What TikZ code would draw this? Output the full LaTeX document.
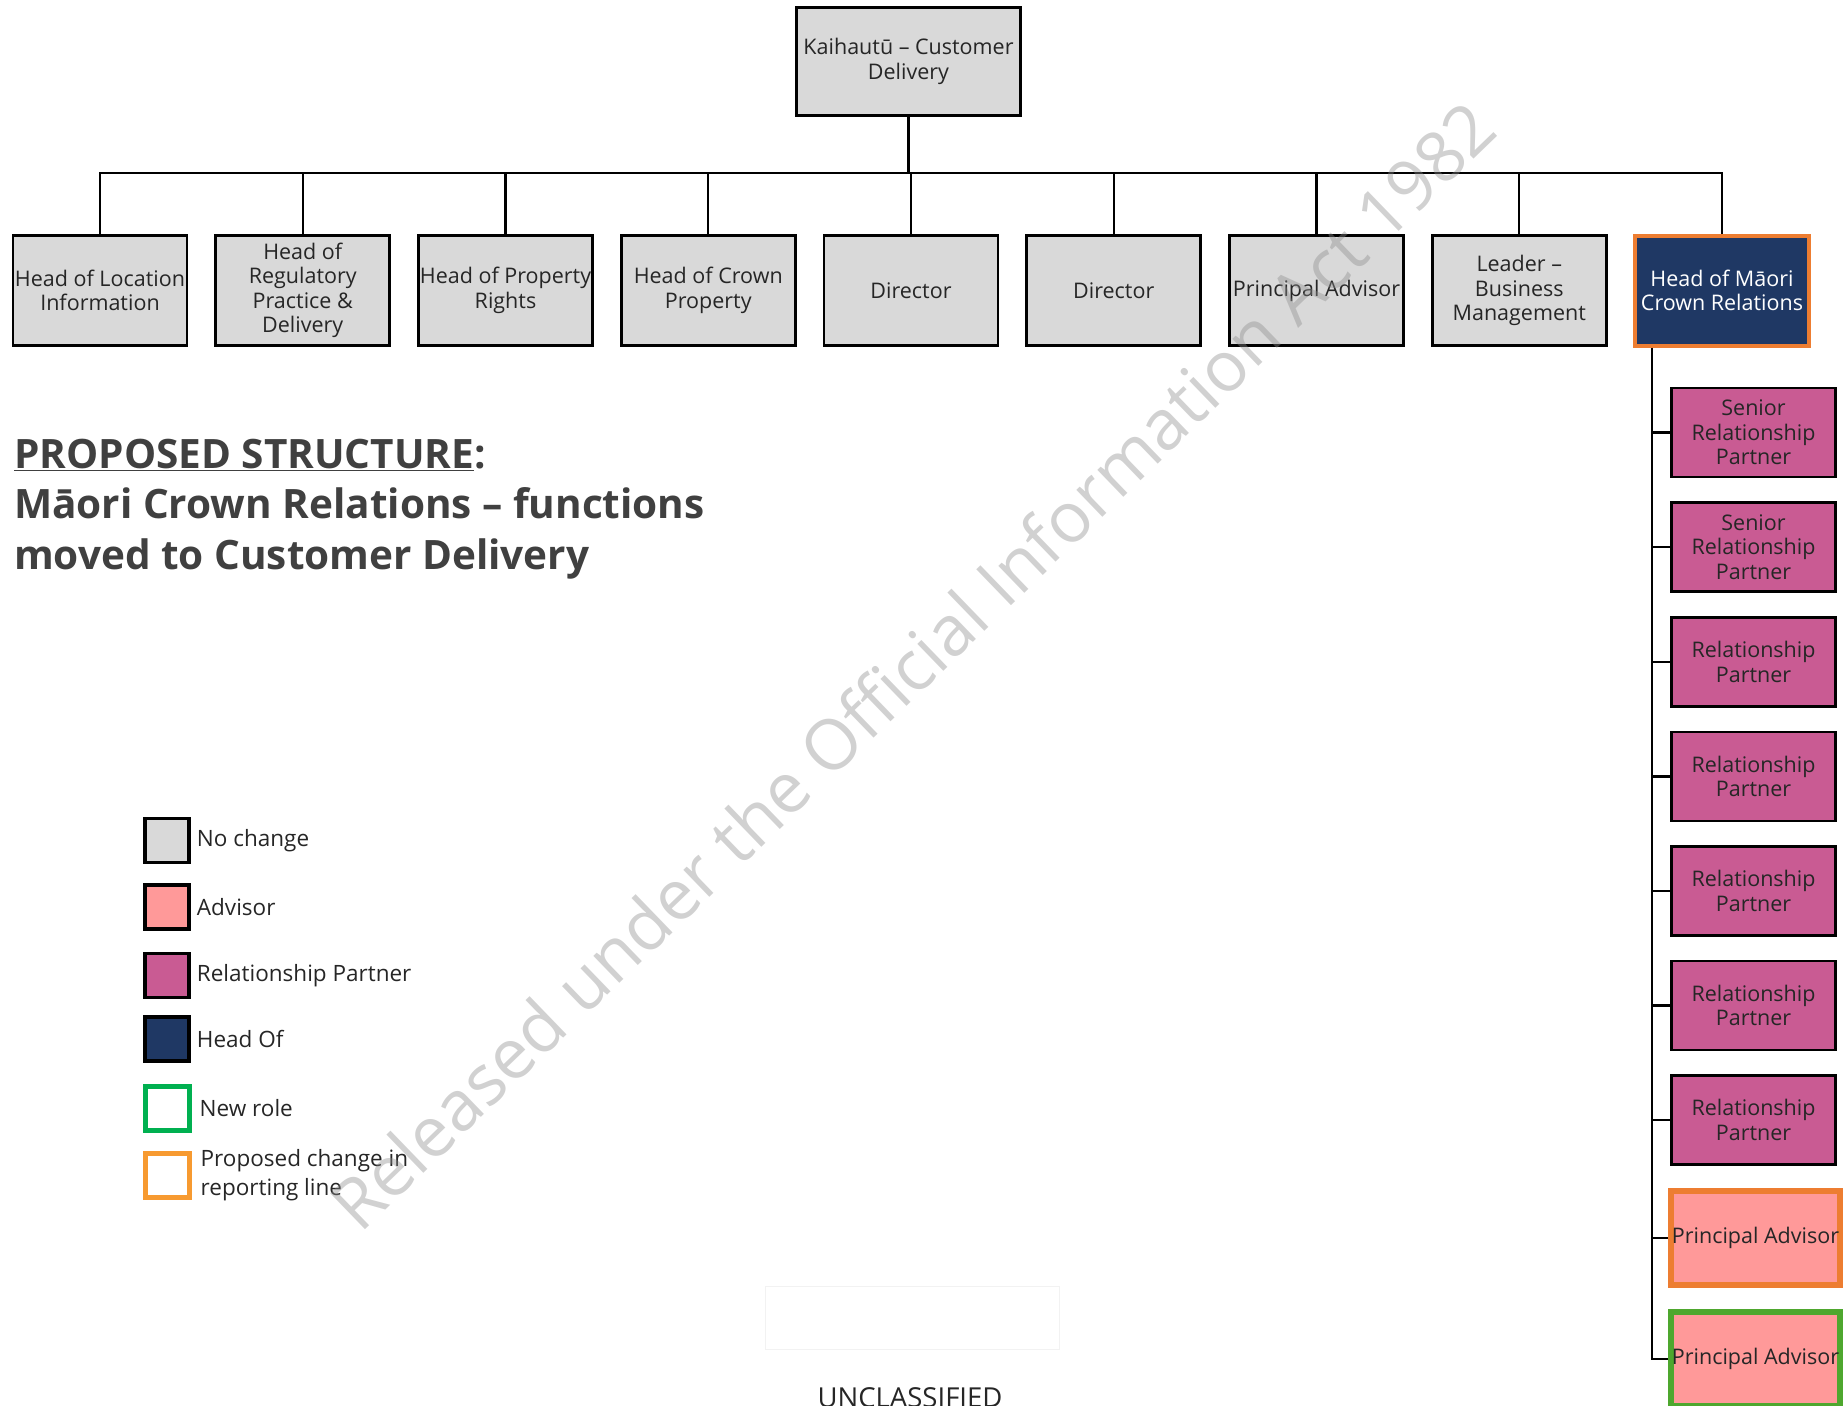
\documentclass[tikz,border=0pt]{standalone}
\usepackage{fontspec}
\setmainfont{Open Sans}
\usetikzlibrary{positioning}
\definecolor{nochange}{HTML}{D9D9D9}
\definecolor{advisor}{HTML}{FF9999}
\definecolor{relpartner}{HTML}{C95B93}
\definecolor{headof}{HTML}{1F3864}
\definecolor{movedorange}{HTML}{ED7D31}
\definecolor{legendorange}{HTML}{F79A30}
\definecolor{newgreen}{HTML}{4EA72E}
\definecolor{legendgreen}{HTML}{00B050}
\definecolor{titlegray}{HTML}{404040}
\tikzset{
  role/.style={draw=black,line width=2.6pt,fill=nochange,text=black!85,align=center,
    inner sep=0pt,font=\fontsize{21.5}{24.5}\selectfont},
  toprole/.style={role,minimum width=174pt,minimum height=110pt},
  subrole/.style={role,minimum width=164pt,minimum height=89pt},
  advrole/.style={role,fill=advisor,line width=6pt,minimum width=169pt,minimum height=94pt},
  link/.style={draw=black,line width=2.4pt},
  legendsq/.style={draw=black,line width=3.5pt,minimum size=44pt,inner sep=0pt},
  legendtext/.style={inner sep=0pt,text=black!85,align=left,font=\fontsize{22.5}{29}\selectfont},
  titletext/.style={inner sep=0pt,text=titlegray,font=\bfseries\fontsize{40.5}{48}\selectfont}
}
\begin{document}
\begin{tikzpicture}[x=1pt,y=-1pt]
\useasboundingbox (0,0) rectangle (1843,1405);

\node[role,minimum width=224pt,minimum height=108pt] (kaihautu) at (908.5,61.5) {Kaihautū – Customer\\Delivery};

\node[toprole] (hloc) at (100,290.5) {Head of Location\\Information};
\node[toprole] (hreg) at (302.75,290.5) {Head of\\Regulatory\\Practice \&\\Delivery};
\node[toprole] (hprop) at (505.5,290.5) {Head of Property\\Rights};
\node[toprole] (hcrown) at (708.25,290.5) {Head of Crown\\Property};
\node[toprole] (dirA) at (911,290.5) {Director};
\node[toprole] (dirB) at (1113.75,290.5) {Director};
\node[toprole] (padv) at (1316.5,290.5) {Principal Advisor};
\node[toprole] (lbm) at (1519.25,290.5) {Leader –\\Business\\Management};
\node[toprole,fill=headof,draw=movedorange,line width=4pt,text=white] (hmcr) at (1722,290.5) {Head of Māori\\Crown Relations};

\coordinate (bus) at (0,173);
\draw[link] (kaihautu.south) -- (kaihautu.south |- bus);
\draw[link] (hloc.north) |- (hmcr.north |- bus) -- (hmcr.north);
\draw[link] (hreg.north) -- (hreg.north |- bus);
\draw[link] (hprop.north) -- (hprop.north |- bus);
\draw[link] (hcrown.north) -- (hcrown.north |- bus);
\draw[link] (dirA.north) -- (dirA.north |- bus);
\draw[link] (dirB.north) -- (dirB.north |- bus);
\draw[link] (padv.north) -- (padv.north |- bus);
\draw[link] (lbm.north) -- (lbm.north |- bus);

\node[subrole,fill=relpartner] (srpA) at (1753.5,432.5) {Senior\\Relationship\\Partner};
\node[subrole,fill=relpartner] (srpB) at (1753.5,547.1) {Senior\\Relationship\\Partner};
\node[subrole,fill=relpartner] (rpA) at (1753.5,661.7) {Relationship\\Partner};
\node[subrole,fill=relpartner] (rpB) at (1753.5,776.3) {Relationship\\Partner};
\node[subrole,fill=relpartner] (rpC) at (1753.5,890.9) {Relationship\\Partner};
\node[subrole,fill=relpartner] (rpD) at (1753.5,1005.5) {Relationship\\Partner};
\node[subrole,fill=relpartner] (rpE) at (1753.5,1120.1) {Relationship\\Partner};
\node[advrole,draw=movedorange] (paA) at (1755.5,1238) {Principal Advisor};
\node[advrole,draw=newgreen] (paB) at (1755.5,1359) {Principal Advisor};

\coordinate (spine) at (1652,0);
\draw[link] (hmcr.south -| spine) |- (paB.west);
\draw[link] (spine |- srpA.west) -- (srpA.west);
\draw[link] (spine |- srpB.west) -- (srpB.west);
\draw[link] (spine |- rpA.west) -- (rpA.west);
\draw[link] (spine |- rpB.west) -- (rpB.west);
\draw[link] (spine |- rpC.west) -- (rpC.west);
\draw[link] (spine |- rpD.west) -- (rpD.west);
\draw[link] (spine |- rpE.west) -- (rpE.west);
\draw[link] (spine |- paA.west) -- (paA.west);

\node[titletext,anchor=base west] (title) at (14,468) {\underline{PROPOSED STRUCTURE}:};
\node[titletext,anchor=base west] (subtitleA) at (14,518.5) {Māori Crown Relations – functions};
\node[titletext,anchor=base west] (subtitleB) at (14,569) {moved to Customer Delivery};

\node[legendsq,fill=nochange] (sqNone) at (167,840.5) {};
\node[legendsq,fill=advisor] (sqAdv) at (167,907) {};
\node[legendsq,fill=relpartner] (sqRel) at (167,975.5) {};
\node[legendsq,fill=headof] (sqHead) at (167,1039) {};
\node[legendsq,draw=legendgreen,fill=white,line width=5pt] (sqNew) at (167,1108) {};
\node[legendsq,draw=legendorange,fill=white,line width=5pt] (sqMove) at (167,1175.5) {};
\node[legendtext,right=6pt of sqNone] (lbNone) {No change};
\node[legendtext,right=6pt of sqAdv] (lbAdv) {Advisor};
\node[legendtext,right=6pt of sqRel] (lbRel) {Relationship Partner};
\node[legendtext,right=6pt of sqHead] (lbHead) {Head Of};
\node[legendtext,right=8pt of sqNew] (lbNew) {New role};
\node[legendtext,right=9pt of sqMove] (lbMove) {Proposed change in\\reporting line};

\draw[black!5,line width=1pt] (765,1286) rectangle (1059,1349);
\node[anchor=base,inner sep=0pt,text=black!85,font=\fontsize{27.5}{30}\selectfont] (classif) at (910,1407) {UNCLASSIFIED};

\node[rotate=44,text=black!45,text opacity=0.4,inner sep=0pt,font=\fontsize{70}{80}\selectfont] (wm) at (912,665) {Released under the Official Information Act 1982};
\end{tikzpicture}
\end{document}
